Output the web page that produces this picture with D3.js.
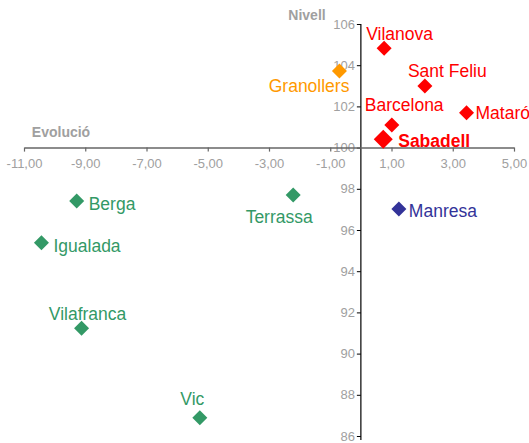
<!DOCTYPE html>
<html><head><meta charset="utf-8">
<script src="https://cdn.jsdelivr.net/npm/d3@7/dist/d3.min.js"></script>
<style>body{margin:0;background:#fff}svg{display:block}</style>
</head><body>
<svg id="c" width="529" height="443"></svg>
<script>
// Data
const cities   = ["Vilanova","Sant Feliu","Mataró","Barcelona","Sabadell","Granollers","Manresa","Berga","Terrassa","Igualada","Vilafranca","Vic"];
const evolucio = [0.76, 2.09, 3.45, 1.01, 0.73, -0.70, 1.24, -9.28, -2.21, -10.43, -9.12, -5.26];
const nivell   = [104.82, 102.99, 101.69, 101.10, 100.40, 103.72, 97.02, 97.41, 97.70, 95.38, 91.23, 86.89];
const groups   = ["red","red","red","red","red","orange","blue","green","green","green","green","green"];
const xTicks   = [-11,-9,-7,-5,-3,-1,1,3,5];
const yTicks   = [86,88,90,92,94,96,98,100,102,104,106];

const colors = {red:"#ff0000", orange:"#ff9900", blue:"#333399", green:"#339966"};
// label placement relative to marker: [dx, dy, anchor]
const labelPos = {
  "Vilanova":[-18,-8,"start"], "Sant Feliu":[-17,-9,"start"], "Mataró":[9,6.5,"start"],
  "Barcelona":[-27,-14,"start"], "Sabadell":[15,8,"start"], "Granollers":[10,21,"end"],
  "Manresa":[10,8,"start"], "Berga":[12,9,"start"], "Terrassa":[-14,28,"middle"],
  "Igualada":[12,9,"start"], "Vilafranca":[6,-8,"middle"], "Vic":[-7.5,-13,"middle"]
};

const svg = d3.select("#c");
const font = "Liberation Sans, Arial, sans-serif";
const x = d3.scaleLinear().domain([-11,5]).range([24,514]);
const y = d3.scaleLinear().domain([86,106]).range([436,24]);
const fmt = d => d.toFixed(2).replace(".", ",");

// Y axis at x=0
const yAxis = svg.append("g").attr("transform",`translate(${x(0)},0)`)
  .call(d3.axisLeft(y).tickValues(yTicks).tickSize(4).tickPadding(2).tickFormat(d3.format("d")).tickSizeOuter(0));
yAxis.select(".domain").remove();
yAxis.selectAll(".tick line").attr("stroke","#000");
yAxis.selectAll(".tick text").attr("fill","#a0a0a0").style("font-family",font).style("font-size","13px");
svg.append("line").attr("x1",x(0)).attr("x2",x(0)).attr("y1",y(106)).attr("y2",y(86)+4)
  .attr("stroke","#000").attr("stroke-width",1.2);

// X axis at y=100
const xAxis = svg.append("g").attr("transform",`translate(0,${y(100)})`)
  .call(d3.axisBottom(x).tickValues(xTicks).tickSize(4).tickPadding(7).tickFormat(fmt).tickSizeOuter(0));
xAxis.select(".domain").attr("stroke","#666").attr("stroke-width",1.5);
xAxis.selectAll(".tick line").attr("stroke","#666").attr("stroke-width",1.2);
xAxis.selectAll(".tick text").attr("fill","#a0a0a0").style("font-family",font).style("font-size","13px");

// Axis titles
svg.append("text").attr("x",307).attr("y",20).attr("text-anchor","middle")
  .attr("fill","#a0a0a0").style("font-family",font).style("font-size","14px").style("font-weight","bold").text("Nivell");
svg.append("text").attr("x",61).attr("y",136.5).attr("text-anchor","middle")
  .attr("fill","#a0a0a0").style("font-family",font).style("font-size","14px").style("font-weight","bold").text("Evolució");

// Points
const data = cities.map((c,i)=>({c, x:evolucio[i], y:nivell[i], g:groups[i]}));
const diamond = r => `M0,${-r}L${r},0L0,${r}L${-r},0Z`;
svg.append("g").selectAll("path").data(data).join("path")
  .attr("transform", d=>`translate(${x(d.x)},${y(d.y)})`)
  .attr("d", d=> diamond(d.c==="Sabadell"?9.5:7.5))
  .attr("fill", d=>colors[d.g]);

// Labels
svg.append("g").selectAll("text").data(data).join("text")
  .attr("x", d=> x(d.x)+labelPos[d.c][0])
  .attr("y", d=> y(d.y)+labelPos[d.c][1])
  .attr("text-anchor", d=> labelPos[d.c][2])
  .attr("fill", d=>colors[d.g])
  .style("font-family",font).style("font-size","17.5px")
  .style("font-weight", d=> d.c==="Sabadell"?"bold":"normal")
  .text(d=>d.c);
</script>
</body></html>
